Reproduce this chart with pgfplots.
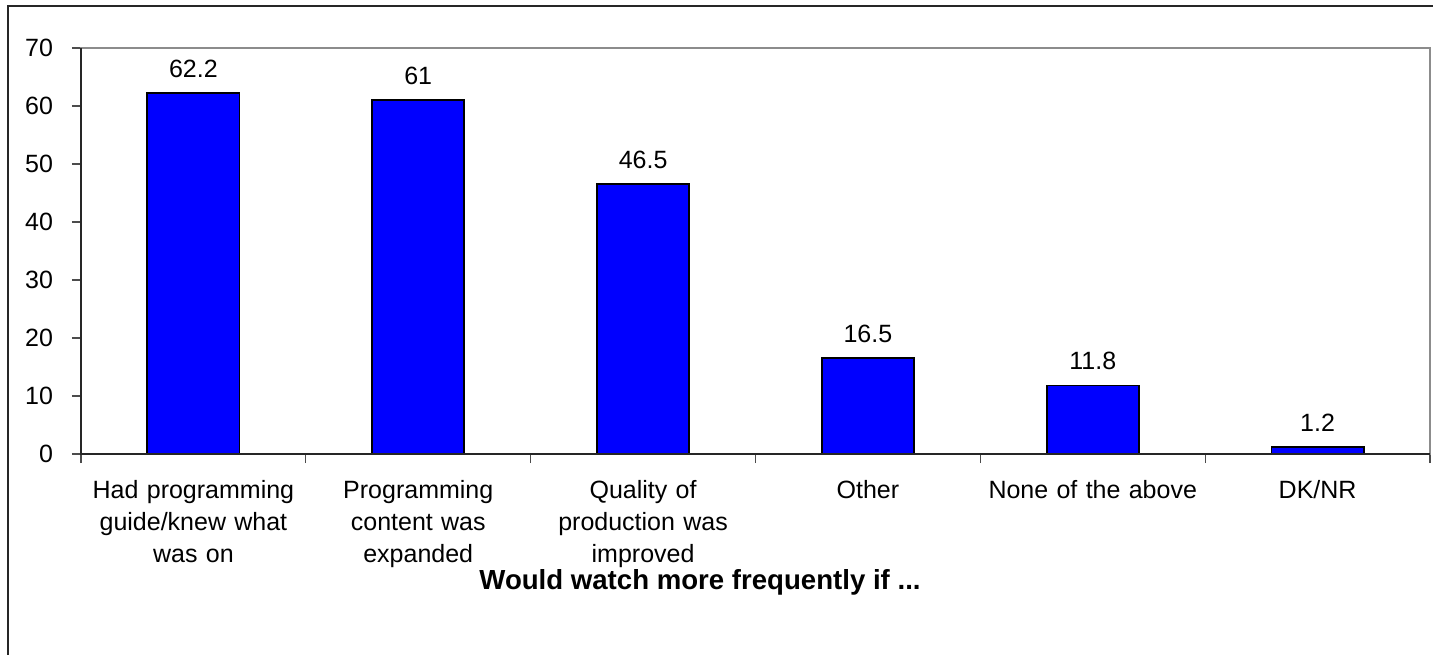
\documentclass[border=0pt]{standalone}
\usepackage{fontspec}
\setmainfont{Liberation Sans}
\usepackage{pgfplots}
\pgfplotsset{compat=1.18}
\begin{document}
\begin{tikzpicture}
\useasboundingbox (-40.5pt,-100pt) rectangle (676pt,227pt);
\draw[line width=1.2pt, black!85] (-36.5pt,-110pt) -- (-36.5pt,224pt) -- (690pt,224pt);
\begin{axis}[
  at={(0pt,0pt)}, anchor=south west,
  scale only axis, width=674.5pt, height=203pt,
  xmin=-0.5, xmax=5.5, ymin=0, ymax=70,
  ytick={0,10,...,70},
  xtick={0,...,5},
  xticklabels={{Had programming\\guide/knew what\\was on},{Programming\\content was\\expanded},{Quality of\\production was\\improved},{Other},{None of the above},{DK/NR}},
  minor xtick={-0.5,0.5,...,5.5},
  major x tick style={draw=none},
  tick align=outside,
  major tick length=4.5pt, minor tick length=4.5pt,
  xtick pos=bottom, ytick pos=left,
  tick style={black!70, line width=0.6pt},
  axis line style={draw=black!45, line width=0.8pt},
  /pgf/number format/assume math mode=true,
  tick label style={font=\fontsize{12.5}{16}\selectfont},
  xticklabel style={align=center, text width=115pt, yshift=-5pt},
  yticklabel style={xshift=-6pt},
  ybar, bar width=0.41,
  nodes near coords,
  every node near coord/.append style={font=\fontsize{12.5}{14}\selectfont, yshift=4pt},
  point meta=explicit symbolic,
  clip=false,
]
\addplot[fill={rgb,255:red,0;green,0;blue,255}, draw=black, line width=0.9pt] coordinates {
  (0,62.2) [62.2]
  (1,61) [61]
  (2,46.5) [46.5]
  (3,16.5) [16.5]
  (4,11.8) [11.8]
  (5,1.2) [1.2]
};
\draw[black!85, line width=0.9pt] (rel axis cs:0,1) -- (rel axis cs:0,0) -- (rel axis cs:1,0);
\end{axis}
\node[font=\bfseries\fontsize{13.8}{16}\selectfont] at (309.5pt,-64pt) {Would watch more frequently if ...};
\end{tikzpicture}
\end{document}
